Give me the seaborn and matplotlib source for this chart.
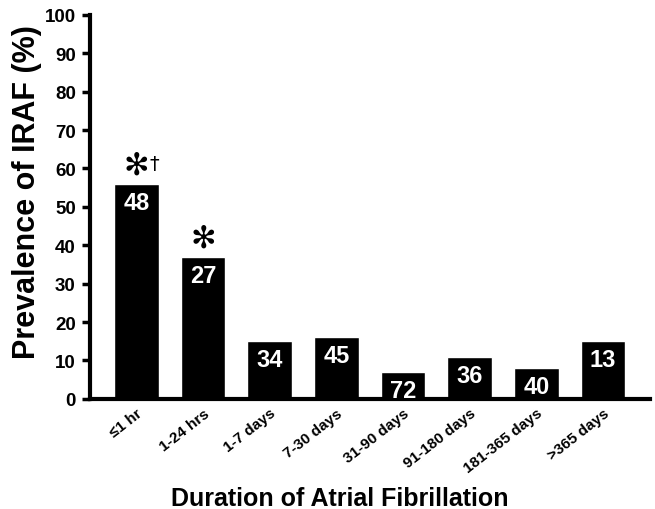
import matplotlib
matplotlib.use("Agg")
import matplotlib.pyplot as plt
import seaborn as sns
import pandas as pd

categories = ["≤1 hr", "1-24 hrs", "1-7 days", "7-30 days", "31-90 days",
              "91-180 days", "181-365 days", ">365 days"]
prevalence = [56, 37, 15, 16, 7, 11, 8, 15]
counts = [48, 27, 34, 45, 72, 36, 40, 13]
marks = ["✻", "✻", "", "", "", "", "", ""]
daggers = ["†", "", "", "", "", "", "", ""]

sns.set_theme(style="ticks")
plt.rcParams['font.family'] = ['Liberation Sans', 'DejaVu Sans']
plt.rcParams['text.color'] = 'black'
plt.rcParams['axes.labelcolor'] = 'black'
plt.rcParams['xtick.color'] = 'black'
plt.rcParams['ytick.color'] = 'black'
plt.rcParams['axes.edgecolor'] = 'black'

df = pd.DataFrame({"cat": categories, "val": prevalence})
fig = plt.figure(figsize=(6.55, 5.10), dpi=100)
ax = fig.add_axes([0.137, 0.216, 0.855, 0.753])
sns.barplot(data=df, x="cat", y="val", color="black", width=0.67,
            saturation=1, ax=ax)

ax.set_ylim(0, 100)
ax.set_xlim(-0.7, 7.7)
ax.set_yticks(range(0, 101, 10))
for lab in ax.get_yticklabels():
    lab.set_fontweight("bold")
    lab.set_fontsize(13.5)
ax.tick_params(axis="y", length=6, width=2.5, direction="out", pad=4)
ax.tick_params(axis="x", length=0, pad=5)
ax.set_xticks(range(len(categories)))
ax.set_xticklabels(categories, rotation=38, ha="right", rotation_mode="anchor",
                   fontsize=11, fontweight="bold")
sns.despine(ax=ax)
ax.spines["left"].set_linewidth(3)
ax.spines["bottom"].set_linewidth(3)

ax.set_ylabel("Prevalence of IRAF (%)", fontsize=22, fontweight="bold")
ax.yaxis.set_label_coords(-0.085, 0.54)
ax.set_xlabel("")
fig.text(0.519, 0.008, "Duration of Atrial Fibrillation", fontsize=18,
         fontweight="bold", ha="center", va="baseline")

for i, (v, c) in enumerate(zip(prevalence, counts)):
    ax.annotate(str(c), (i, v), xytext=(0, -5), textcoords="offset points",
                ha="center", va="top", color="white", fontsize=17, fontweight="bold")
    if marks[i]:
        ax.annotate(marks[i], (i, v), xytext=(0, 3), textcoords="offset points",
                    ha="center", va="bottom", color="black", fontsize=22,
                    family="DejaVu Sans")
    if daggers[i]:
        ax.annotate(daggers[i], (i, v), xytext=(13, 8), textcoords="offset points",
                    ha="center", va="bottom", color="black", fontsize=14,
                    family="DejaVu Sans")

fig.savefig("out.png", dpi=100)
